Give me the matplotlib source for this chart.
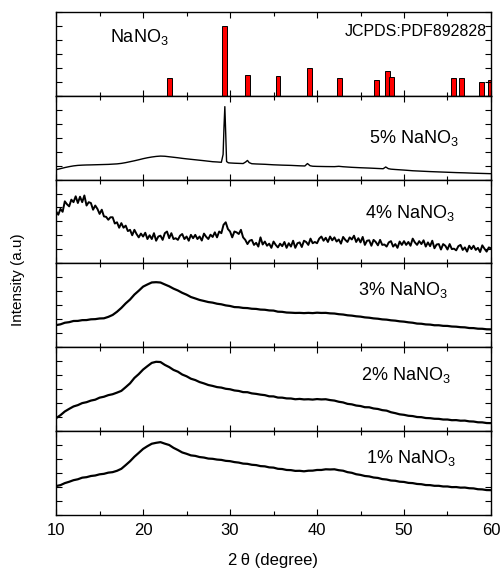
import numpy as np
import matplotlib
matplotlib.use("Agg")
import matplotlib.pyplot as plt
from matplotlib.ticker import MultipleLocator, FixedLocator

plt.rcParams['font.family'] = ['Liberation Sans', 'DejaVu Sans']
plt.rcParams['mathtext.fontset'] = 'custom'
plt.rcParams['mathtext.rm'] = 'Liberation Sans'
plt.rcParams['mathtext.it'] = 'Liberation Sans:italic'
plt.rcParams['mathtext.bf'] = 'Liberation Sans:bold'

# Reference stick pattern, NaNO3 (JCPDS 89-2828): position (2theta) and relative intensity
ref_pos = [23.0, 29.4, 32.0, 35.5, 39.1, 42.6, 46.8, 48.1, 48.55, 55.7, 56.6, 58.9, 59.9]
ref_int = [26, 100, 30, 28, 40, 26, 23, 35, 27, 25, 25, 20, 22]

# 5% NaNO3 pattern (non-uniform steps, denser around the sharp reflections)
tt_5 = [10, 10.5, 11, 11.5, 12, 12.5, 13, 13.5, 14, 15, 16, 17, 17.5, 18, 18.5, 19,
        19.5, 20, 20.5, 21, 21.5, 22, 22.5, 23, 23.5, 24, 24.5, 25, 26, 27, 28, 28.5,
        29, 29.2, 29.3, 29.4, 29.5, 29.6, 29.8, 30, 30.5, 31, 31.5, 31.8, 32.0, 32.2,
        32.5, 33, 34, 35, 36, 37, 38, 38.6, 38.9, 39.2, 39.5, 40, 41, 42, 42.5, 43,
        44, 45, 46, 47, 47.6, 47.9, 48.2, 48.5, 49, 50, 51, 52, 53, 54, 55, 56, 57,
        58, 59, 60]
int_5 = [11.8, 13.0, 14.3, 15.4, 16.3, 16.9, 17.2, 17.4, 17.5, 17.8, 18.1, 18.7, 19.3,
         20.2, 21.3, 22.4, 23.6, 24.9, 26.0, 26.9, 27.6, 28.0, 27.8, 27.2, 26.6, 26.0,
         25.3, 24.7, 23.6, 22.5, 21.3, 21.0, 20.6, 30.0, 62.0, 87.0, 55.0, 21.5, 20.0,
         19.8, 19.5, 19.3, 19.1, 21.0, 22.8, 20.2, 18.9, 18.6, 18.2, 17.6, 17.2, 16.9,
         16.4, 16.2, 19.1, 16.5, 15.9, 15.7, 15.5, 15.4, 15.8, 15.3, 14.6, 14.1, 13.7,
         13.2, 12.9, 15.0, 13.0, 12.4, 12.0, 11.3, 10.5, 10.0, 9.5, 9.1, 8.7, 8.3, 8.0,
         7.6, 7.3, 7.0]

# 4% NaNO3 pattern (noisy), 0.25 deg steps from 10 to 60
int_4 = [62, 58, 65, 61.5, 74, 70.5, 68, 76,
         73, 80, 72, 79.5, 73, 81, 69, 73,
         72, 64, 69, 65, 59, 64, 56, 55.5,
         52, 55, 55, 47.5, 49, 42.5, 48, 42.5,
         45, 38.5, 40, 33.5, 40, 35, 31, 35.5,
         32, 36.5, 29, 33.5, 29, 36, 27, 32,
         33, 28, 36, 38, 30, 36, 29, 30,
         28, 33, 35, 29, 32, 27, 34, 30,
         34, 29, 32, 27.2, 35.5, 31.7, 29, 34.2,
         31.5, 37, 31, 38, 36, 46, 49, 41,
         38, 31, 38, 37, 35, 40, 31, 28,
         23, 27, 28, 22, 24.5, 20, 31, 22.5,
         26, 21, 23.5, 18.5, 26, 22, 19, 23.5,
         20.5, 25.5, 18.5, 24, 20, 27, 18.5, 24,
         25, 19.5, 27, 25.5, 22, 29.5, 24, 25.5,
         24, 29.5, 32, 27, 30.5, 25.5, 32, 27.5,
         31, 26, 28.5, 23.5, 31.5, 28, 25.5, 31,
         28.5, 33, 25.5, 30, 25, 31.5, 22, 27,
         27.5, 21, 28, 25.5, 21.5, 28, 22, 22.5,
         20, 25, 26.5, 20, 23, 18.5, 26, 22,
         26.5, 22, 25.5, 21, 29.5, 25, 22, 26.5,
         23, 27.5, 20, 25, 20.5, 27, 18, 22.5,
         23, 16.5, 23, 21, 16.5, 23, 17, 17.5,
         15.5, 20.5, 22, 16, 19, 14, 21, 17,
         21, 16, 18.5, 13.5, 21.5, 17.5, 14, 19,
         18]

# 3%, 2% and 1% NaNO3 patterns, 0.5 deg steps from 10 to 60
int_3 = [26.3, 27.2, 29.1, 29.8, 31.2, 31.3, 32.2, 32.3, 33.2, 33.4,
         34.2, 34.4, 36.1, 38.4, 42.2, 46.8, 52.2, 56.8, 62.7, 67.3,
         72.2, 74.8, 77.2, 77.5, 77.1, 74.8, 72.6, 69.8, 67.6, 64.8,
         62.6, 59.8, 58.1, 56.3, 55.1, 53.8, 53.1, 51.8, 51.1, 49.8,
         49.1, 47.8, 47.6, 46.8, 46.6, 45.8, 45.6, 44.8, 44.6, 43.8,
         43.6, 42.3, 42.1, 41.3, 41.1, 40.8, 40.9, 40.6, 40.9, 40.6,
         41.1, 40.8, 40.9, 40.3, 40.1, 39.3, 38.9, 38.0, 37.6, 36.8,
         36.4, 35.5, 35.1, 34.3, 33.9, 33.1, 32.8, 32.0, 31.6, 30.8,
         30.4, 29.6, 29.1, 28.1, 27.9, 27.1, 26.9, 26.1, 26.1, 25.4,
         25.3, 24.6, 24.4, 23.8, 23.6, 22.8, 22.7, 22.0, 21.9, 21.3,
         21.2]

int_2 = [15.2, 18.8, 23.2, 26.3, 29.2, 30.8, 33.2, 34.3, 36.2, 37.3,
         39.7, 40.8, 42.7, 43.8, 45.7, 47.8, 52.2, 56.8, 63.2, 67.8,
         73.2, 77.3, 81.2, 82.5, 82.2, 78.8, 76.2, 72.8, 70.7, 67.3,
         65.2, 62.3, 60.7, 58.3, 56.7, 54.8, 53.7, 52.3, 51.7, 50.3,
         49.7, 48.3, 47.7, 46.3, 46.2, 44.8, 44.2, 43.3, 42.7, 41.3,
         41.2, 39.8, 39.7, 38.8, 38.7, 37.8, 38.2, 37.6, 37.8, 37.4,
         38.0, 37.6, 37.8, 36.8, 36.2, 34.8, 34.0, 32.3, 31.7, 30.3,
         29.7, 28.3, 28.2, 26.8, 26.2, 24.8, 24.2, 22.3, 21.2, 19.8,
         19.2, 18.1, 17.7, 16.6, 16.4, 15.4, 15.2, 14.5, 14.4, 13.6,
         13.6, 12.8, 12.9, 12.2, 12.3, 11.4, 11.2, 10.3, 10.2, 9.4,
         9.3]

int_1 = [34.2, 35.3, 37.7, 39.3, 41.2, 42.3, 44.2, 44.8, 46.2, 46.8,
         48.2, 48.8, 50.2, 50.8, 52.4, 54.8, 59.2, 63.8, 69.2, 73.8,
         78.5, 81.8, 84.7, 85.8, 86.6, 84.8, 83.2, 79.8, 77.2, 74.3,
         72.7, 70.8, 70.2, 68.8, 68.2, 67.0, 66.7, 65.8, 65.4, 64.3,
         63.9, 62.8, 62.2, 61.0, 60.7, 59.6, 59.2, 58.0, 57.7, 56.5,
         56.2, 54.8, 54.5, 53.4, 53.2, 52.3, 52.4, 51.8, 52.5, 52.6,
         53.4, 53.4, 54.2, 54.0, 54.2, 53.1, 52.5, 50.8, 50.0, 48.3,
         47.5, 46.2, 45.7, 44.4, 43.9, 42.5, 42.0, 40.8, 40.5, 39.4,
         39.1, 38.0, 37.7, 36.7, 36.4, 35.4, 35.3, 34.5, 34.5, 33.7,
         33.7, 32.9, 33.0, 32.3, 32.4, 31.6, 31.4, 30.4, 30.2, 29.4,
         29.3]

tt_q = np.arange(10, 60.001, 0.25)
tt_h = np.arange(10, 60.001, 0.5)

fig, axes = plt.subplots(6, 1, sharex=True, figsize=(5.01, 5.70), dpi=100)
fig.subplots_adjust(left=0.112, right=0.98, top=0.979, bottom=0.097, hspace=0)

# top panel: reference sticks
ax = axes[0]
ax.bar(ref_pos, ref_int, width=0.55, color='#ff0000', edgecolor='black', linewidth=0.7)
ax.set_ylim(0, 120)
ax.yaxis.set_major_locator(MultipleLocator(20))
ax.text(0.124, 0.646, 'NaNO$_3$', transform=ax.transAxes, fontsize=13, va='baseline')
ax.text(0.99, 0.714, 'JCPDS:PDF892828', transform=ax.transAxes, fontsize=11.5,
        ha='right', va='baseline')

# sample patterns
axes[1].plot(tt_5, int_5, color='black', lw=1.0)
axes[2].plot(tt_q, int_4, color='black', lw=1.4)
axes[3].plot(tt_h, int_3, color='black', lw=1.6)
axes[4].plot(tt_h, int_2, color='black', lw=1.6)
axes[5].plot(tt_h, int_1, color='black', lw=1.6)

labels = ['5% NaNO$_3$', '4% NaNO$_3$', '3% NaNO$_3$', '2% NaNO$_3$', '1% NaNO$_3$']
label_xy = [(0.72, 0.44), (0.71, 0.545), (0.694, 0.62), (0.70, 0.61), (0.713, 0.62)]
for a, lab, (lx, ly) in zip(axes[1:], labels, label_xy):
    a.set_ylim(0, 100)
    a.yaxis.set_major_locator(FixedLocator(np.linspace(0, 100, 7)))
    a.text(lx, ly, lab, transform=a.transAxes, fontsize=13, va='baseline')

for a in axes:
    a.set_xlim(10, 60)
    a.xaxis.set_major_locator(MultipleLocator(10))
    a.xaxis.set_minor_locator(MultipleLocator(5))
    a.tick_params(which='both', direction='in', top=True, right=True,
                  labelleft=False, width=0.8)
    a.tick_params(which='major', length=4)
    a.tick_params(which='minor', length=3)
    for s in a.spines.values():
        s.set_linewidth(1.0)

axes[-1].tick_params(axis='x', labelsize=12, pad=6)

fig.text(0.545, 0.016, '2\u2009θ (degree)', ha='center', va='center', fontsize=12)
fig.text(0.036, 0.51, 'Intensity (a.u)', rotation=90, ha='center', va='center',
         fontsize=11)

fig.savefig('out.png', dpi=100)
